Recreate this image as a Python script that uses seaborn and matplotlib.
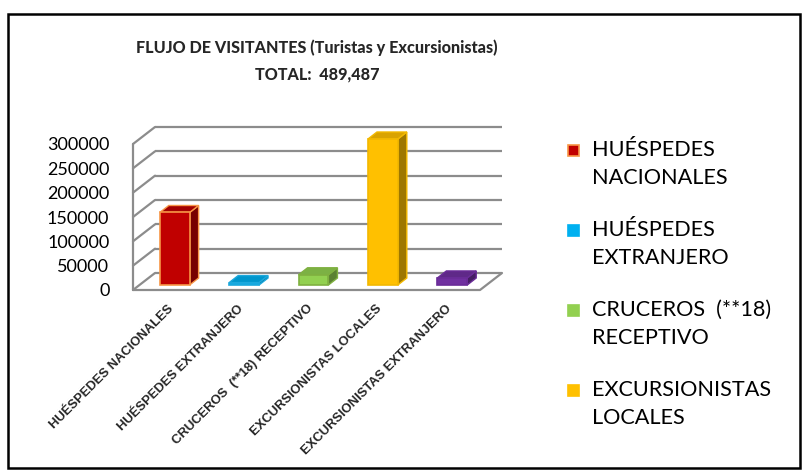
import numpy as np
import matplotlib
matplotlib.use("Agg")
import matplotlib.pyplot as plt
from matplotlib.patches import Polygon, Rectangle
import matplotlib.colors as mcolors
import seaborn as sns

# Data
categorias = ["HUÉSPEDES NACIONALES", "HUÉSPEDES EXTRANJERO", "CRUCEROS  (**18) RECEPTIVO",
              "EXCURSIONISTAS LOCALES", "EXCURSIONISTAS EXTRANJERO"]
valores = [149000, 5000, 21000, 300000, 14487]
colores = ["#C00000", "#00B0F0", "#92D050", "#FFC000", "#7030A0"]
bordes = ["#F79646", "#1CA8DC", "#7FB040", "#F2B800", "#6A2C98"]
leyenda = ["HUÉSPEDES\nNACIONALES", "HUÉSPEDES\nEXTRANJERO", "CRUCEROS  (**18)\nRECEPTIVO",
           "EXCURSIONISTAS\nLOCALES"]
yticks = [0, 50000, 100000, 150000, 200000, 250000, 300000]
titulo = "FLUJO DE VISITANTES (Turistas y Excursionistas)"
total = "TOTAL:  489,487"

sns.set_theme(style="white")
plt.rcParams['font.family'] = ['Lato', 'DejaVu Sans']

W, H = 808, 476
fig = plt.figure(figsize=(W / 100, H / 100), dpi=100)
ax = fig.add_axes([133 / W, (H - 290) / H, 347 / W, 146 / H])
ax.set_xlim(-0.5, 4.5)
ax.set_ylim(0, 300000)


def px(dx, dy):
    # convert a pixel offset into data units
    x0, y0 = ax.transData.inverted().transform((0, 0))
    x1, y1 = ax.transData.inverted().transform((dx, dy))
    return x1 - x0, y1 - y0


floor_dx, floor_dy = px(22, 17)
bar_dx, bar_dy = px(7, 5)
dep_dx, dep_dy = px(9, 7)

gris = "#8C8C8C"
# back wall gridlines + left wall
for t in yticks:
    ax.plot([-0.5 + floor_dx, 4.5 + floor_dx], [t + floor_dy, t + floor_dy], color=gris, lw=1.6,
            clip_on=False, zorder=1, solid_capstyle="butt")
    ax.plot([-0.5, -0.5 + floor_dx], [t, t + floor_dy], color=gris, lw=1.6, clip_on=False, zorder=1)
ax.plot([-0.5, -0.5], [0, 300000], color=gris, lw=1.6, clip_on=False, zorder=1)
# floor
ax.plot([-0.5, 4.5, 4.5 + floor_dx], [0, 0, floor_dy], color=gris, lw=1.6, clip_on=False, zorder=1)

sns.barplot(x=categorias, y=valores, hue=categorias, palette=colores, width=0.43,
            legend=False, ax=ax, zorder=3, saturation=1)

for patch, c, e in zip(ax.patches, colores, bordes):
    patch.set_x(patch.get_x() + bar_dx)
    patch.set_y(bar_dy)
    patch.set_edgecolor(e)
    patch.set_linewidth(1.2)
    patch.set_clip_on(False)
    x0 = patch.get_x()
    x1 = x0 + patch.get_width()
    y0 = patch.get_y()
    y1 = y0 + patch.get_height()
    rgb = np.array(mcolors.to_rgb(c))
    lado = Polygon([(x1, y0), (x1 + dep_dx, y0 + dep_dy), (x1 + dep_dx, y1 + dep_dy), (x1, y1)],
                   closed=True, facecolor=rgb * 0.62, edgecolor=e, lw=1.0, zorder=2.9, clip_on=False)
    tapa = Polygon([(x0, y1), (x1, y1), (x1 + dep_dx, y1 + dep_dy), (x0 + dep_dx, y1 + dep_dy)],
                   closed=True, facecolor=rgb * 0.85, edgecolor=e, lw=1.0, zorder=2.9, clip_on=False)
    ax.add_patch(lado)
    ax.add_patch(tapa)

for s in ax.spines.values():
    s.set_visible(False)
ax.set_yticks(yticks)
ax.set_yticklabels([str(t) for t in yticks], fontsize=13, color="black")
ax.tick_params(axis="y", length=0, pad=17)
ax.set_xticks(range(len(categorias)))
ax.set_xticklabels(categorias, rotation=45, ha="right", rotation_mode="anchor",
                   fontsize=9.4, fontweight="bold", family=["Liberation Sans", "DejaVu Sans"])
ax.tick_params(axis="x", length=0, pad=9)
ax.grid(False)
ax.set_xlabel("")
ax.set_ylabel("")

fig.text(317 / W, 1 - 48 / H, titulo, ha="center", va="center", fontsize=11.6, fontweight="black")
fig.text(317 / W, 1 - 74 / H, total, ha="center", va="center", fontsize=11.6, fontweight="black")

# legend (four entries visible)
for i, (lab, c, e) in enumerate(zip(leyenda, colores, bordes)):
    yc = 150 + 80 * i
    fig.patches.append(Rectangle((568 / W, 1 - (yc + 6) / H), 11 / W, 11 / H,
                                 transform=fig.transFigure, facecolor=c,
                                 edgecolor=e if i == 0 else c, lw=1.2))
    fig.text(592 / W, 1 - (yc - 10) / H, lab, ha="left", va="top", fontsize=15.6,
             linespacing=1.5, color="black")

# outer border
fig.patches.append(Rectangle((8 / W, 1 - 468 / H), 792 / W, 454 / H, transform=fig.transFigure,
                             fill=False, edgecolor="black", lw=1.8))

fig.savefig("out.png", dpi=100)
